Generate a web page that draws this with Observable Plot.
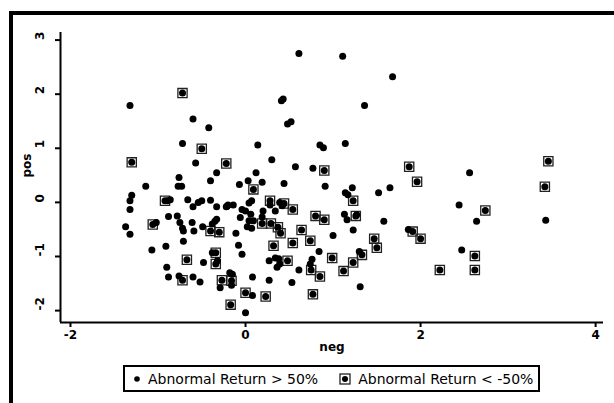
<!DOCTYPE html>
<html>
<head>
<meta charset="utf-8">
<script src="https://cdn.jsdelivr.net/npm/d3@7"></script>
<script src="https://cdn.jsdelivr.net/npm/@observablehq/plot@0.6"></script>
<style>
  html, body { margin: 0; padding: 0; background: #fff; }
  body { width: 614px; height: 403px; position: relative; overflow: hidden; font-family: "DejaVu Sans", sans-serif; }
  #chart { position: absolute; left: 0; top: 0; }
  #frame { position: absolute; left: 9px; top: 11px; width: 620px; height: 400px;
           border-top: 4px solid #000; border-left: 4px solid #000; box-sizing: border-box; pointer-events: none; }
  #legend { position: absolute; left: 123px; top: 365px; width: 417px; height: 27px; box-sizing: border-box;
            border: 2px solid #000; display: flex; align-items: center; font-size: 14px; color: #000; }
  .item { display: flex; align-items: center; }
  .item svg { display: block; }
</style>
</head>
<body>
<div id="chart"></div>
<div id="frame"></div>
<div id="legend"></div>
<script>
// Series labels
const seriesLabels = ["Abnormal Return > 50%", "Abnormal Return < -50%"];
const xLabel = "neg";
const yLabel = "pos";
const xTicks = [-2, 0, 2, 4];
const yTicks = [-2, -1, 0, 1, 2, 3];
const xDomain = [-2.114, 4.09];
const yDomain = [-2.22, 3.14];

// Abnormal Return > 50%  : [neg, pos]
const gainPoints = [
  [0.61,2.75],[1.11,2.70],[1.68,2.32],[-1.32,1.79],[1.36,1.79],[0.41,1.88],[0.43,1.91],
  [-0.60,1.54],[0.52,1.49],[0.48,1.45],[-0.42,1.38],[-0.72,1.09],[0.14,1.06],[0.85,1.06],
  [0.89,1.01],[1.14,1.09],[-0.57,0.73],[0.30,0.79],[0.57,0.66],[0.77,0.63],[2.56,0.55],
  [2.44,-0.05],[2.64,-0.35],[3.43,-0.33],[2.47,-0.88],[1.86,-0.50],[1.65,0.27],[1.52,0.18],
  [1.58,-0.35],[1.31,-1.56],[1.30,-0.91],[1.00,-0.61],[0.76,-1.05],[0.74,-1.14],[0.84,-0.91],
  [0.91,0.30],[1.22,0.27],[1.14,0.18],[1.17,0.14],[1.13,-0.22],[1.16,-0.32],[1.27,-0.23],
  [1.23,-0.51],[0.39,0.00],[0.42,-0.06],[0.28,-0.05],[0.34,-0.16],[0.19,-0.27],[0.03,0.40],
  [0.12,0.55],[0.19,0.37],[-0.07,0.33],[0.07,0.03],[0.04,-0.01],[-0.04,-0.13],[0.00,-0.16],
  [0.06,-0.22],[-0.06,-0.28],[0.04,-0.34],[0.09,-0.34],[0.02,-0.45],[0.07,-0.48],[-0.11,-0.57],
  [-0.08,-0.79],[-0.04,-0.96],[0.27,-1.08],[0.34,-1.03],[0.38,-1.04],[0.39,-1.14],[0.36,-1.20],
  [0.61,-1.25],[0.53,-1.48],[0.27,-1.44],[0.08,-1.38],[0.08,-1.72],[0.00,-2.04],[-0.18,-1.30],
  [-0.15,-1.33],[-0.16,-1.53],[-0.29,-1.58],[-0.38,-0.93],[-0.32,-1.08],[-0.48,-1.11],
  [-0.52,-1.47],[-0.60,-1.38],[-0.76,-1.36],[-0.88,-1.38],[-0.90,-1.20],[-0.91,-0.81],
  [-1.07,-0.88],[-0.71,-0.72],[-0.71,-0.53],[-0.72,-0.48],[-0.61,-0.37],[-0.59,-0.53],
  [-0.49,-0.45],[-0.38,-0.40],[-0.35,-0.35],[-0.33,-0.31],[-0.33,-0.08],[-0.22,-0.08],
  [-0.20,-0.05],[-0.40,0.04],[-0.50,0.03],[-0.54,0.00],[-0.60,-0.08],[-0.66,0.05],
  [-0.75,-0.37],[-0.78,-0.25],[-0.88,-0.26],[-1.02,-0.37],[-0.86,0.05],[-0.89,0.03],
  [-1.14,0.30],[-0.77,0.30],[-0.73,0.30],[-0.76,0.46],[-0.40,0.40],[-0.33,0.55],
  [-1.30,0.13],[-1.32,0.03],[-1.32,-0.13],[-1.32,-0.59],[-1.37,-0.45],[0.44,0.35],
  [-0.14,-0.05],[-0.21,-0.07],[0.20,-0.16]
];

// Abnormal Return < -50% : [neg, pos]
const lossPoints = [
  [-0.72,2.02],[-0.50,0.99],[-1.30,0.74],[-0.22,0.72],[0.90,0.59],[1.87,0.66],[1.96,0.38],
  [3.46,0.76],[3.42,0.29],[2.74,-0.15],[2.62,-0.99],[2.62,-1.25],[2.22,-1.25],[2.00,-0.67],
  [1.91,-0.54],[1.47,-0.67],[1.50,-0.84],[1.33,-0.97],[1.23,-1.11],[1.12,-1.27],[0.99,-1.03],
  [0.85,-1.37],[0.77,-1.70],[0.75,-1.25],[0.74,-0.71],[1.23,0.03],[1.26,-0.25],[0.80,-0.25],
  [0.90,-0.32],[0.64,-0.51],[0.54,-0.75],[0.54,-0.13],[0.44,-0.02],[0.28,0.03],[0.37,-0.46],
  [0.40,-0.57],[0.29,-0.39],[0.32,-0.80],[0.19,-0.39],[0.09,0.24],[0.48,-1.08],[0.23,-1.74],
  [0.00,-1.67],[-0.17,-1.89],[-0.16,-1.45],[-0.27,-1.44],[-0.34,-1.14],[-0.34,-0.93],
  [-0.72,-1.44],[-0.67,-1.06],[-0.40,-0.53],[-0.30,-0.55],[-1.06,-0.41],[-0.92,0.03]
];

const gain = gainPoints.map(([neg, pos]) => ({neg, pos}));
const loss = lossPoints.map(([neg, pos]) => ({neg, pos}));

const dotR = 3.5;
const boxR = 5.2;

const plot = Plot.plot({
  width: 614,
  height: 360,
  marginLeft: 60,
  marginRight: 11,
  marginTop: 32,
  marginBottom: 38,
  style: {fontFamily: "DejaVu Sans", fontSize: "12px", color: "#000", background: "transparent"},
  x: {domain: xDomain, label: null},
  y: {domain: yDomain, label: null},
  marks: [
    Plot.ruleX([xDomain[0]], {stroke: "#000", strokeWidth: 2}),
    Plot.ruleY([yDomain[0]], {stroke: "#000", strokeWidth: 2}),
    Plot.axisX({ticks: xTicks, tickSize: 5, tickPadding: 3, strokeWidth: 2, fontWeight: "bold", fontSize: 12, tickFormat: d => d}),
    Plot.axisY({ticks: yTicks, tickSize: 5, strokeWidth: 2, tickFormat: () => ""}),
    Plot.text(yTicks, {y: d => d, text: d => String(d), frameAnchor: "left", dx: -20, rotate: -90,
      fontWeight: "bold", fontSize: 12, fill: "#000"}),
    Plot.text([xLabel], {frameAnchor: "bottom", dy: 28, fontWeight: "bold", fontSize: 12, fill: "#000"}),
    Plot.text([yLabel], {frameAnchor: "left", dx: -33, rotate: -90, fontWeight: "bold", fontSize: 12, fill: "#000"}),
    Plot.dot(loss, {x: "neg", y: "pos", symbol: "square", r: boxR, fill: "none", stroke: "#222", strokeWidth: 1.3}),
    Plot.dot(gain, {x: "neg", y: "pos", r: dotR, fill: "#000", stroke: "none"}),
    Plot.dot(loss, {x: "neg", y: "pos", r: dotR, fill: "#000", stroke: "none"})
  ]
});
document.getElementById("chart").appendChild(plot);

// Legend
const legend = document.getElementById("legend");
function item(kind, label, ml, gap) {
  const div = document.createElement("div");
  div.className = "item";
  div.style.marginLeft = ml + "px";
  const svg = d3.create("svg").attr("width", 12).attr("height", 12);
  if (kind === "box") {
    svg.append("rect").attr("x", 1).attr("y", 1).attr("width", 10).attr("height", 10)
      .attr("fill", "none").attr("stroke", "#222").attr("stroke-width", 1.3);
  }
  svg.append("circle").attr("cx", 6).attr("cy", 6).attr("r", kind === "box" ? 3 : 2.8).attr("fill", "#000");
  div.appendChild(svg.node());
  const span = document.createElement("span");
  span.textContent = label;
  span.style.marginLeft = gap + "px";
  div.appendChild(span);
  legend.appendChild(div);
}
item("dot", seriesLabels[0], 6, 5);
item("box", seriesLabels[1], 21, 7);
</script>
</body>
</html>
